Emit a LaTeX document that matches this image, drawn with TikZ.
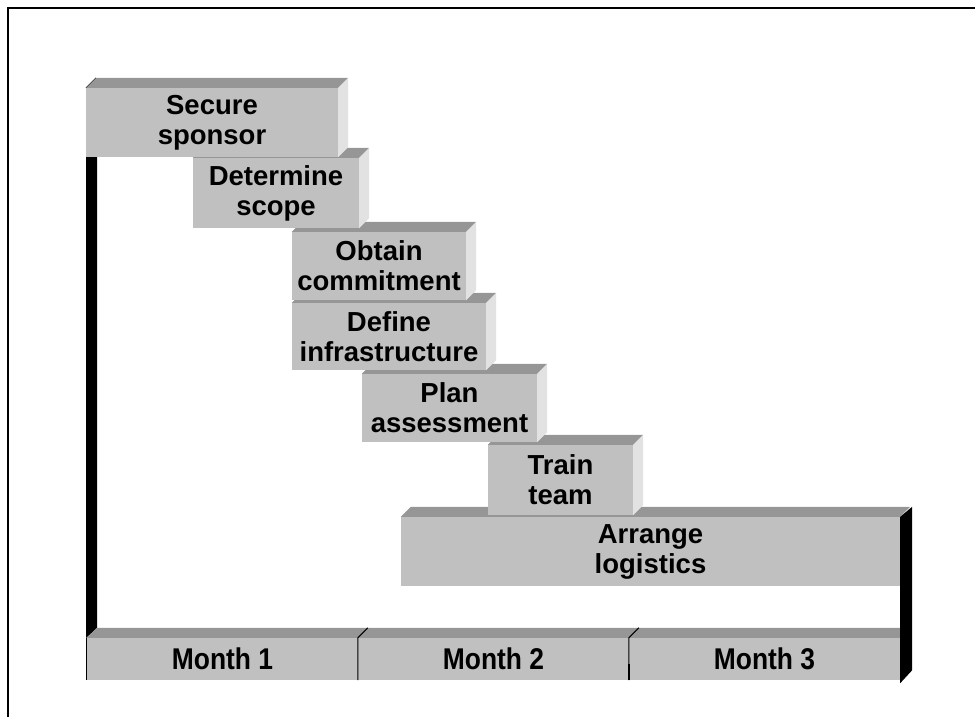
\documentclass[tikz,border=0pt]{standalone}
\usepackage{fontspec}
\setmainfont{Liberation Sans}
\definecolor{barfront}{RGB}{192,192,192}
\definecolor{bartop}{RGB}{150,150,150}
\definecolor{barside}{RGB}{226,226,226}

\begin{document}
\begin{tikzpicture}
  [x=1pt,y=-1pt,
   task/.style={rectangle,fill=barfront,inner sep=0pt,align=center,
     font=\bfseries\fontsize{27.5}{30}\selectfont},
   month/.style={task,font=\bfseries\fontsize{30}{30}\selectfont},
   topface/.style={fill=bartop},
   sideface/.style={fill=barside},
   axis/.style={fill=black}]
  \useasboundingbox (0,0) rectangle (975,717);
  \draw[line width=1.5pt] (8,717) -- (8,8) -- (975,8);

  % left axis bar
  \fill[axis] (86,150) -- (97,150) -- (97,628) -- (86,638) -- cycle;

  % month bar
  \foreach \n/\xa/\xb/\lbl in {m1/87/358/Month 1,m2/358/629/Month 2,m3/629/900/Month 3}
    \node[month,minimum width={\xb-\xa},minimum height=42] (\n) at ({(\xa+\xb)/2},659)
      {\scalebox{0.88}[1]{\lbl}};
  \fill[topface] (m1.north west) -- ++(10,-10) -- ([shift={(10,-10)}]m3.north east) -- (m3.north east) -- cycle;
  \draw[line width=1pt] (m1.north west) -- (m1.south west);
  \draw[line width=1pt] (m2.south west) -- (m2.north west) -- ++(10,-10);
  \draw[line width=1pt] (m3.south west) -- (m3.north west) -- ++(10,-10);
  \draw[line width=2pt] (m3.south west) -- ++(0,-16);

  % tasks, drawn back to front
  \foreach \n/\xa/\xb/\ya/\yb/\lbl in {
      al/401/900/517/586/{Arrange\\logistics},
      tt/488/633/445/515/{Train\\team},
      pa/362/537/374/442/{Plan\\assessment},
      di/292/486/303/370/{Define\\infrastructure},
      oc/292/466/232/300/{Obtain\\commitment},
      ds/193/359/158/228/{Determine\\scope},
      ss/86/338/88/157/{Secure\\sponsor}} {
    \node[task,minimum width={\xb-\xa},minimum height={\yb-\ya}] (\n)
      at ({(\xa+\xb)/2},{(\ya+\yb)/2}) {\lbl};
    \fill[topface] (\n.north west) -- ++(10,-10) -- ([shift={(10,-10)}]\n.north east) -- (\n.north east) -- cycle;
    \fill[sideface] (\n.north east) -- ++(10,-10) -- ([shift={(10,-10)}]\n.south east) -- (\n.south east) -- cycle;
  }
  \draw (ss.north west) -- ++(10,-10);

  % right axis bar
  \fill[axis] (al.north east) -- ++(12,-10) -- ([shift={(12,-10)}]m3.south east) -- ([yshift=-3]m3.south east) -- cycle;
\end{tikzpicture}
\end{document}
